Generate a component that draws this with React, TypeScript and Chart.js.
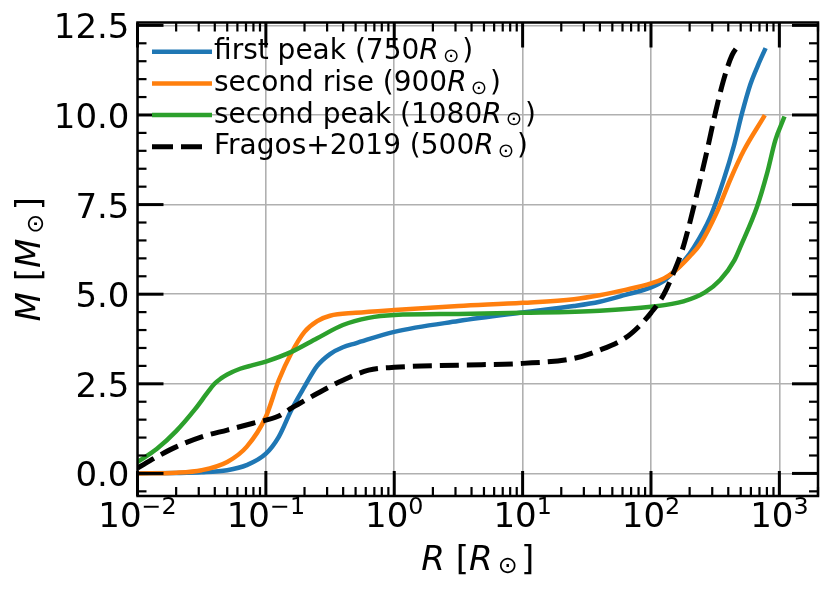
import { useEffect, useRef } from "react";
import { Chart, registerables } from "chart.js";

Chart.register(...registerables);

// radius [R_sun] and enclosed mass [M_sun]
const firstPeakR = [0.01, 0.02, 0.0316, 0.05, 0.0708, 0.1, 0.126, 0.158, 0.2, 0.251, 0.316, 0.398, 0.5, 1, 3.16, 10, 25.1, 39.8, 63.1, 100, 126, 146, 180, 215, 290, 368, 441, 512, 594, 680, 769];
const firstPeakM = [0.0, 0.01, 0.03, 0.09, 0.23, 0.55, 1.02, 1.77, 2.42, 3.0, 3.33, 3.52, 3.63, 3.95, 4.25, 4.49, 4.67, 4.79, 4.98, 5.19, 5.37, 5.58, 5.92, 6.3, 7.16, 8.19, 9.12, 10.05, 10.85, 11.38, 11.81];

const secondRiseR = [0.01, 0.02, 0.0316, 0.05, 0.0708, 0.1, 0.126, 0.158, 0.2, 0.251, 0.316, 0.5, 1, 3.16, 10, 25.1, 39.8, 63.1, 100, 126, 146, 169, 200, 242, 327, 415, 527, 755];
const secondRiseM = [0.0, 0.02, 0.09, 0.32, 0.74, 1.58, 2.6, 3.36, 3.95, 4.25, 4.4, 4.48, 4.56, 4.67, 4.76, 4.86, 4.97, 5.12, 5.3, 5.44, 5.58, 5.78, 6.05, 6.4, 7.3, 8.2, 9.0, 9.94];

const secondPeakR = [0.01, 0.0141, 0.02, 0.0282, 0.0355, 0.0398, 0.0447, 0.05, 0.063, 0.079, 0.1, 0.158, 0.251, 0.398, 0.631, 1, 3.16, 10, 39.8, 100, 179, 263, 347, 447, 497, 670, 802, 931, 1081];
const secondPeakM = [0.32, 0.68, 1.18, 1.8, 2.28, 2.5, 2.65, 2.76, 2.92, 3.02, 3.12, 3.39, 3.77, 4.14, 4.34, 4.42, 4.45, 4.48, 4.54, 4.65, 4.8, 5.05, 5.4, 5.95, 6.32, 7.44, 8.37, 9.3, 9.9];

const fragosR = [0.01, 0.0141, 0.02, 0.0316, 0.05, 0.0794, 0.126, 0.158, 0.2, 0.251, 0.398, 0.631, 1, 3.16, 10, 25.1, 39.8, 63.1, 79.4, 100, 126, 150, 174, 191, 235, 274, 317, 368, 428, 497];
const fragosM = [0.15, 0.46, 0.74, 1.02, 1.21, 1.4, 1.6, 1.82, 2.03, 2.23, 2.6, 2.88, 2.96, 3.02, 3.07, 3.21, 3.44, 3.78, 4.08, 4.48, 5.0, 5.6, 6.2, 6.7, 8.0, 9.02, 10.05, 10.98, 11.67, 12.0];

const seriesNames = ["first peak", "second rise", "second peak", "Fragos+2019"];
const seriesRadii = ["750", "900", "1080", "500"];
const seriesColors = ["#1f77b4", "#ff7f0e", "#2ca02c", "#000000"];

const xTickValues = [0.01, 0.1, 1, 10, 100, 1000];
const xTickExponents = ["\u22122", "\u22121", "0", "1", "2", "3"];
const yTickValues = [0, 2.5, 5, 7.5, 10, 12.5];
const yTickLabels = ["0.0", "2.5", "5.0", "7.5", "10.0", "12.5"];

const FONT = '"DejaVu Sans"';
const DASH = [19, 8];

type Part = { t: string; italic?: boolean; scale?: number; dy?: number; pre?: number; post?: number };

function drawRich(ctx: CanvasRenderingContext2D, parts: Part[], x: number, y: number, size: number, align: "left" | "center" | "right") {
  const font = (p: Part) => `${p.italic ? "italic " : ""}${size * (p.scale ?? 1)}px ${FONT}`;
  let w = 0;
  for (const p of parts) {
    ctx.font = font(p);
    w += ctx.measureText(p.t).width + ((p.pre ?? 0) + (p.post ?? 0)) * size;
  }
  let cx = align === "left" ? x : align === "center" ? x - w / 2 : x - w;
  for (const p of parts) {
    ctx.font = font(p);
    cx += (p.pre ?? 0) * size;
    ctx.fillText(p.t, cx, y + (p.dy ?? 0) * size);
    cx += ctx.measureText(p.t).width + (p.post ?? 0) * size;
  }
}

const sun = (letter: string): Part[] => [
  { t: letter, italic: true },
  { t: "\u2299", scale: 0.7, dy: 0.09, pre: 0.15, post: 0.1 },
];

const decor = {
  id: "decor",
  afterDraw(chart: Chart) {
    const { ctx, chartArea: a } = chart;
    const xs = chart.scales.x;
    const ys = chart.scales.y;
    ctx.save();
    ctx.strokeStyle = "#000";
    ctx.fillStyle = "#000";
    ctx.lineCap = "butt";

    const line = (x1: number, y1: number, x2: number, y2: number, w: number) => {
      ctx.lineWidth = w;
      ctx.beginPath();
      ctx.moveTo(x1, y1);
      ctx.lineTo(x2, y2);
      ctx.stroke();
    };

    // x ticks (inward, top and bottom)
    for (let e = -2; e <= 3; e++) {
      for (let k = 1; k <= 9; k++) {
        const v = k * Math.pow(10, e);
        if (v > 2000) continue;
        const px = xs.getPixelForValue(v);
        const len = k === 1 ? 25 : 9;
        const w = k === 1 ? 3 : 2.2;
        line(px, a.bottom, px, a.bottom - len, w);
        line(px, a.top, px, a.top + len, w);
      }
    }
    // y ticks (inward, left and right)
    for (let i = -1; i <= 25; i++) {
      const v = i * 0.5;
      const major = i % 5 === 0;
      const py = ys.getPixelForValue(v);
      const len = major ? 26 : 9;
      const w = major ? 3 : 2.2;
      line(a.left, py, a.left + len, py, w);
      line(a.right, py, a.right - len, py, w);
    }
    // spines
    ctx.lineWidth = 2.5;
    ctx.strokeRect(a.left, a.top, a.right - a.left, a.bottom - a.top);

    // tick labels
    ctx.textBaseline = "alphabetic";
    yTickValues.forEach((v, i) => {
      drawRich(ctx, [{ t: yTickLabels[i] }], a.left - 8, ys.getPixelForValue(v) + 13, 34, "right");
    });
    xTickValues.forEach((v, i) => {
      drawRich(
        ctx,
        [{ t: "10" }, { t: xTickExponents[i], scale: 0.7, dy: -0.38 }],
        xs.getPixelForValue(v),
        a.bottom + 31,
        34,
        "center"
      );
    });

    // axis titles
    drawRich(ctx, [{ t: "R", italic: true }, { t: " [" }, ...sun("R"), { t: "]" }], (a.left + a.right) / 2, 570, 34, "center");
    ctx.save();
    ctx.translate(40, (a.top + a.bottom) / 2);
    ctx.rotate(-Math.PI / 2);
    drawRich(ctx, [{ t: "M", italic: true }, { t: " [" }, ...sun("M"), { t: "]" }], 0, 0, 34, "center");
    ctx.restore();

    // legend (no frame)
    seriesNames.forEach((name, i) => {
      const ly = 51.7 + i * 31.7;
      ctx.strokeStyle = seriesColors[i];
      if (i === 3) {
        ctx.setLineDash([21, 8]);
        line(152, ly, 203, ly, 5);
        ctx.setLineDash([]);
      } else {
        line(152, ly, 212, ly, 4.5);
      }
      drawRich(ctx, [{ t: `${name} (${seriesRadii[i]}` }, ...sun("R"), { t: ")" }], 214, ly + 7.6, 28, "left");
    });
    ctx.restore();
  },
};

const toPoints = (rs: number[], ms: number[]) => rs.map((r, i) => ({ x: r, y: ms[i] }));

export default function App() {
  const canvasRef = useRef<HTMLCanvasElement>(null);
  const chartRef = useRef<Chart | null>(null);

  useEffect(() => {
    document.body.style.margin = "0";
    if (!canvasRef.current) return;
    if (chartRef.current) chartRef.current.destroy();

    const series = [
      toPoints(firstPeakR, firstPeakM),
      toPoints(secondRiseR, secondRiseM),
      toPoints(secondPeakR, secondPeakM),
      toPoints(fragosR, fragosM),
    ];
    // reversed so the first series is drawn first (underneath), like matplotlib
    const datasets = series
      .map((data, i) => ({
        label: seriesNames[i],
        data,
        pointRadius: 0,
        fill: false,
        cubicInterpolationMode: "monotone" as const,
        borderColor: seriesColors[i],
        borderWidth: i === 3 ? 5 : 4.5,
        borderDash: i === 3 ? DASH : [],
        borderCapStyle: (i === 3 ? "butt" : "square") as CanvasLineCap,
      }))
      .reverse();

    chartRef.current = new Chart(canvasRef.current, {
      type: "line",
      data: { datasets },
      options: {
        animation: false,
        responsive: false,
        events: [],
        layout: { padding: { left: 137.5, right: 12, top: 22.5, bottom: 95 } },
        plugins: { legend: { display: false }, tooltip: { enabled: false } },
        scales: {
          x: {
            type: "logarithmic",
            min: 0.01,
            max: 2000,
            ticks: { display: false },
            grid: { color: "#b0b0b0", lineWidth: 1.6, drawTicks: false },
            border: { display: false },
            afterBuildTicks: (s: any) => {
              s.ticks = xTickValues.map((v) => ({ value: v }));
            },
            afterFit: (s: any) => {
              s.height = 0;
            },
          },
          y: {
            type: "linear",
            min: -0.63,
            max: 12.58,
            ticks: { display: false },
            grid: { color: "#b0b0b0", lineWidth: 1.6, drawTicks: false },
            border: { display: false },
            afterBuildTicks: (s: any) => {
              s.ticks = yTickValues.map((v) => ({ value: v }));
            },
            afterFit: (s: any) => {
              s.width = 0;
            },
          },
        },
      },
      plugins: [decor],
    });

    return () => {
      if (chartRef.current) {
        chartRef.current.destroy();
        chartRef.current = null;
      }
    };
  }, []);

  return (
    <div style={{ width: 830, height: 591 }}>
      <canvas ref={canvasRef} width={830} height={591} style={{ width: 830, height: 591 }} />
    </div>
  );
}
